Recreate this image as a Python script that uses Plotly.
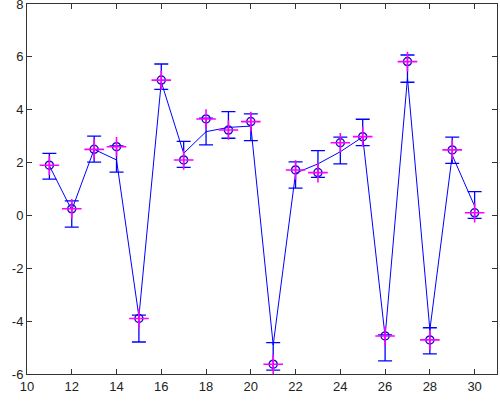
import plotly.graph_objects as go

x = list(range(11, 31))
# line through errorbar centres (MATLAB errorbar line)
y_line = [1.88, 0.20, 2.50, 2.10, -3.83, 5.05, 2.35, 3.17, 3.33, 3.38,
          -4.90, 1.60, 1.95, 2.41, 2.97, -4.58, 5.20, -4.33, 2.28, 0.35]
y_top = [2.35, 0.55, 3.00, 2.63, -3.77, 5.73, 2.80, 3.68, 3.93, 3.84,
         -4.81, 2.03, 2.45, 2.96, 3.64, -4.52, 6.07, -4.25, 2.96, 0.90]
y_bottom = [1.37, -0.44, 2.02, 1.64, -4.79, 4.77, 1.82, 2.67, 2.92, 2.83,
            -5.85, 1.03, 1.44, 1.95, 2.64, -5.50, 5.04, -5.24, 1.97, -0.11]
# measured data points (circle + plus markers)
y_data = [1.90, 0.25, 2.50, 2.60, -3.90, 5.12, 2.10, 3.65, 3.23, 3.55,
          -5.63, 1.72, 1.62, 2.75, 2.98, -4.56, 5.82, -4.71, 2.48, 0.10]

x_ticks = list(range(10, 31, 2))
y_ticks = list(range(-6, 9, 2))

err_plus = [t - y for t, y in zip(y_top, y_line)]
err_minus = [y - b for y, b in zip(y_line, y_bottom)]

fig = go.Figure()
fig.add_trace(go.Scatter(
    x=x, y=y_line, mode="lines",
    line=dict(color="#0000ff", width=1),
    error_y=dict(type="data", symmetric=False, array=err_plus,
                 arrayminus=err_minus, color="#0000ff", thickness=1.3, width=7),
    showlegend=False, hoverinfo="skip"))
fig.add_trace(go.Scatter(
    x=x, y=y_data, mode="markers",
    marker=dict(symbol="circle-open", size=8, color="#1010c0",
                line=dict(width=1.5, color="#1010c0")),
    showlegend=False))
fig.add_trace(go.Scatter(
    x=x, y=y_data, mode="markers",
    marker=dict(symbol="cross-thin-open", size=14, color="#ff00ff",
                line=dict(width=1.6, color="#ff00ff")),
    showlegend=False))

axis_common = dict(showline=True, linecolor="#333333", linewidth=1,
                   mirror="ticks", ticks="inside", ticklen=5,
                   tickcolor="#333333", showgrid=False, zeroline=False,
                   ticklabeloverflow="allow",
                   tickfont=dict(family="Liberation Sans, Arial, sans-serif",
                                 size=13, color="#222222"))
fig.update_xaxes(range=[10, 31], tickvals=x_ticks, ticktext=[str(v) for v in x_ticks],
                 **axis_common)
fig.update_yaxes(range=[-6, 8], tickvals=y_ticks, ticktext=[str(v) for v in y_ticks],
                 **axis_common)
fig.update_layout(width=500, height=401,
                  margin=dict(l=27, r=3, t=4, b=27, autoexpand=False),
                  plot_bgcolor="white", paper_bgcolor="white")
fig.write_html("out.html")
